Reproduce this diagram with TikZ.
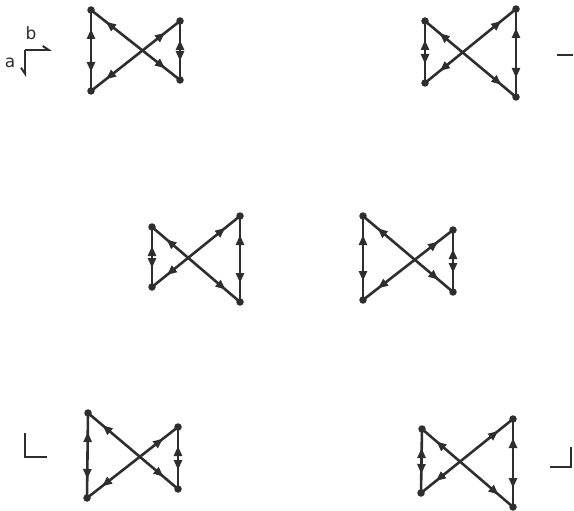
\documentclass[tikz,border=0pt]{standalone}
\usepackage{fontspec}
\setmainfont{DejaVu Sans}
\usetikzlibrary{arrows.meta,decorations.markings}
\definecolor{ink}{HTML}{2E2E2E}
\begin{document}
\begin{tikzpicture}[x=1pt,y=-1pt,
  dot/.style={circle,fill=ink,inner sep=0pt,minimum size=7.5pt},
  link/.style={draw=ink,line width=2.6pt,postaction={decorate},
    decoration={markings,
      mark=at position 29pt with {\arrow[ink]{Triangle[length=10pt,width=8pt,reversed]}},
      mark=at position -19pt with {\arrow[ink]{Triangle[length=10pt,width=8pt]}}}},
  mk/.style={draw=ink,line width=2.2pt},
  lbl/.style={inner sep=0pt,text=ink,font=\fontsize{17}{17}\selectfont}]
\useasboundingbox (0,0) rectangle (574,511);
\foreach \n/\tlx/\tly/\blx/\bly/\trx/\try/\brx/\bry in {
  1/91/10/91/91/180/21/180/80,
  2/425/21/425/83/516/9/516/97,
  3/152/227/152/287/240/216/240/302,
  4/363/216/363/300/453/230/453/292,
  5/88/413/87/498/178/427/178/489,
  6/422/429/421/493/513/419/513/507}{
  \node[dot] (tl\n) at (\tlx,\tly) {};
  \node[dot] (bl\n) at (\blx,\bly) {};
  \node[dot] (tr\n) at (\trx,\try) {};
  \node[dot] (br\n) at (\brx,\bry) {};
  \path[link] (tl\n.center) -- (bl\n.center);
  \path[link] (tr\n.center) -- (br\n.center);
  \path[link] (tl\n.center) -- (br\n.center);
  \path[link] (tr\n.center) -- (bl\n.center);
}
% axis label
\coordinate (c0) at (25,50);
\coordinate (cb) at (52,50);
\coordinate (ca) at (25,77);
\draw[ink,line width=2pt,-{Straight Barb[left,length=6pt,width=8pt]}] (c0) -- (cb);
\draw[ink,line width=2pt,-{Straight Barb[right,length=6pt,width=8pt]}] (c0) -- (ca);
\node[lbl] (lb) at (31,33) {b};
\node[lbl] (la) at (10,63) {a};
% corner marks
\coordinate (m1a) at (557,55);
\coordinate (m1b) at (573,55);
\draw[mk] (m1a) -- (m1b);
\coordinate (m2a) at (25,433);
\coordinate (m2b) at (25,457);
\coordinate (m2c) at (47,457);
\draw[mk] (m2a) -- (m2b) -- (m2c);
\coordinate (m3a) at (550,467);
\coordinate (m3b) at (571,467);
\coordinate (m3c) at (571,447);
\draw[mk] (m3a) -- (m3b) -- (m3c);
\end{tikzpicture}
\end{document}
